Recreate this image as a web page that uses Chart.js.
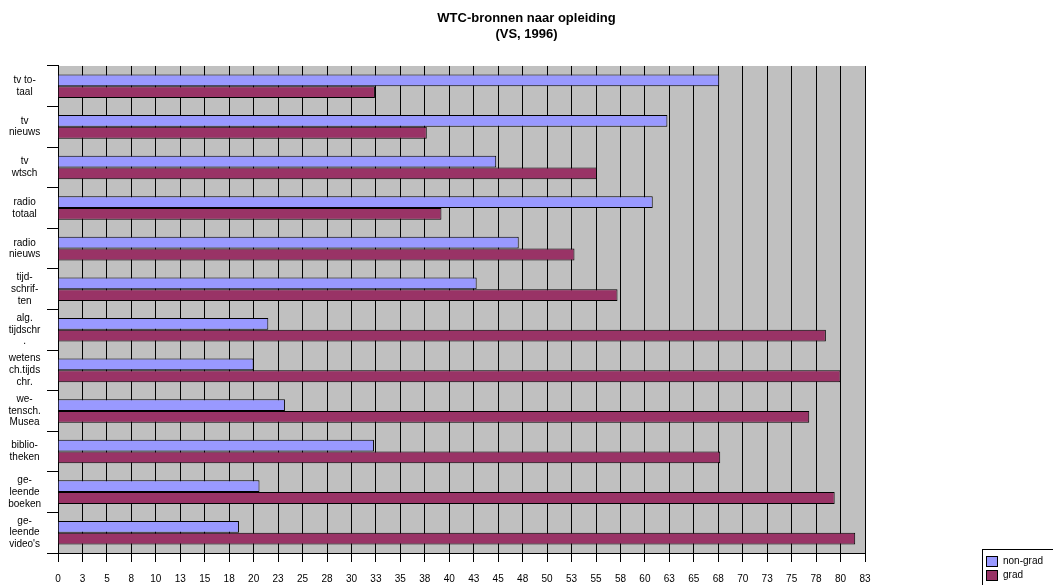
<!DOCTYPE html>
<html>
<head>
<meta charset="utf-8">
<script src="https://cdn.jsdelivr.net/npm/chart.js@4/dist/chart.umd.min.js"></script>
<style>
  html, body { margin: 0; padding: 0; background: #fff; }
  #wrap { width: 1053px; height: 585px; }
</style>
</head>
<body>
<div id="wrap"><canvas id="myChart"></canvas></div>
<script>
let categories = [
    ['tv to-', 'taal'],
    ['tv', 'nieuws'],
    ['tv', 'wtsch'],
    ['radio', 'totaal'],
    ['radio', 'nieuws'],
    ['tijd-', 'schrif-', 'ten'],
    ['alg.', 'tijdschr', '.'],
    ['wetens', 'ch.tijds', 'chr.'],
    ['we-', 'tensch.', 'Musea'],
    ['biblio-', 'theken'],
    ['ge-', 'leende', 'boeken'],
    ['ge-', 'leende', "video's"]
];
let nonGrad = [67.6, 62.3, 44.8, 60.8, 47.1, 42.8, 21.5, 20.0, 23.2, 32.3, 20.6, 18.5];
let grad = [32.4, 37.7, 55.1, 39.2, 52.8, 57.2, 78.5, 80.0, 76.8, 67.7, 79.4, 81.5];
let seriesNames = ['non-grad', 'grad'];
let colors = ['#9999ff', '#993366'];
let xMax = 82.5;
let xStep = 2.5;

let font = 'Liberation Sans, Arial, sans-serif';

// grey plot area like the old Excel charts
let plotBackground = {
    id: 'plotBackground',
    beforeDraw(chart) {
        let a = chart.chartArea;
        let ctx = chart.ctx;
        ctx.save();
        ctx.fillStyle = '#c0c0c0';
        ctx.fillRect(a.left, a.top, a.right - a.left, a.bottom - a.top);
        ctx.restore();
    }
};

// boxed legend in the bottom right corner
let boxLegend = {
    id: 'boxLegend',
    afterDraw(chart) {
        let ctx = chart.ctx;
        let x = 982, y = 549;
        ctx.save();
        ctx.strokeStyle = '#000';
        ctx.lineWidth = 1;
        ctx.strokeRect(x + 0.5, y + 0.5, 80, 40);
        ctx.font = '10px ' + font;
        ctx.textBaseline = 'middle';
        chart.data.datasets.forEach((ds, i) => {
            let ry = y + 7 + i * 14;
            ctx.fillStyle = ds.backgroundColor;
            ctx.fillRect(x + 4, ry, 11, 10);
            ctx.strokeStyle = '#000';
            ctx.strokeRect(x + 4.5, ry + 0.5, 11, 10);
            ctx.fillStyle = '#000';
            ctx.fillText(ds.label, x + 21, ry + 5.5);
        });
        ctx.restore();
    }
};

let ctx = document.getElementById('myChart').getContext('2d');

let chart = new Chart(ctx, {
    type: 'bar',
    data: {
        labels: categories,
        datasets: [
            {
                label: seriesNames[0],
                data: nonGrad,
                backgroundColor: colors[0],
                borderColor: '#000',
                borderWidth: 1
            },
            {
                label: seriesNames[1],
                data: grad,
                backgroundColor: colors[1],
                borderColor: '#000',
                borderWidth: 1
            }
        ]
    },
    options: {
        indexAxis: 'y',
        responsive: true,
        maintainAspectRatio: false,
        animation: false,
        layout: {
            padding: { left: 0, right: 0, top: 0, bottom: -11 }
        },
        datasets: {
            bar: {
                categoryPercentage: 0.58,
                barPercentage: 1
            }
        },
        scales: {
            x: {
                min: 0,
                max: xMax,
                ticks: {
                    stepSize: xStep,
                    color: '#000',
                    padding: 11,
                    font: { family: font, size: 10 },
                    callback: (v) => Math.round(v)
                },
                grid: {
                    color: '#000',
                    lineWidth: 1,
                    tickLength: 9,
                    tickColor: '#000'
                },
                border: { color: '#000', width: 1 }
            },
            y: {
                afterFit: (scale) => { scale.width = 58; },
                ticks: {
                    color: '#000',
                    padding: 6,
                    crossAlign: 'center',
                    font: { family: font, size: 10, lineHeight: 1.17 }
                },
                grid: {
                    drawOnChartArea: false,
                    color: '#000',
                    tickLength: 11
                },
                border: { color: '#000', width: 1 }
            },
            // empty space on the right where the legend sits
            spacer: {
                type: 'linear',
                axis: 'y',
                position: 'right',
                afterFit: (scale) => { scale.width = 188; },
                ticks: { display: false },
                grid: { display: false },
                border: { display: false }
            }
        },
        plugins: {
            legend: { display: false },
            tooltip: { enabled: false },
            title: {
                display: true,
                text: ['WTC-bronnen naar opleiding', '(VS, 1996)'],
                color: '#000',
                font: { family: font, size: 13, weight: 'bold', lineHeight: 1.23 },
                padding: { top: 10, bottom: 24 }
            }
        }
    },
    plugins: [plotBackground, boxLegend]
});
</script>
</body>
</html>
